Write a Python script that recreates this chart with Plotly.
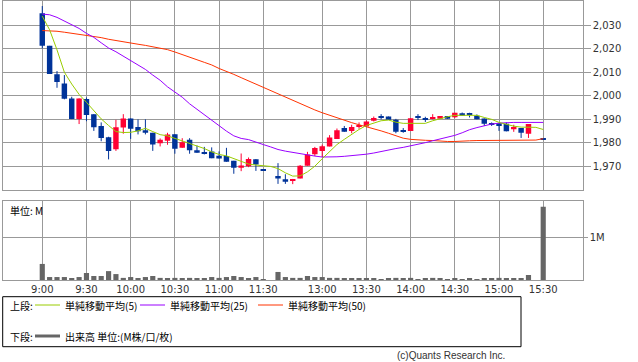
import plotly.graph_objects as go

# ---- data -------------------------------------------------------------
times = ["9:00", "9:05", "9:10", "9:15", "9:20", "9:25", "9:30", "9:35", "9:40", "9:45",
         "9:50", "9:55", "10:00", "10:05", "10:10", "10:15", "10:20", "10:25", "10:30", "10:35",
         "10:40", "10:45", "10:50", "10:55", "11:00", "11:05", "11:10", "11:15", "11:20", "11:25",
         "11:30", " ", "12:30", "12:35", "12:40", "12:45", "12:50", "12:55", "13:00", "13:05",
         "13:10", "13:15", "13:20", "13:25", "13:30", "13:35", "13:40", "13:45", "13:50", "13:55",
         "14:00", "14:05", "14:10", "14:15", "14:20", "14:25", "14:30", "14:35", "14:40", "14:45",
         "14:50", "14:55", "15:00", "15:05", "15:10", "15:15", "15:20", "15:25", "15:30"]

open_ = [2035.0, 2021.2, 2009.2, 2005.2, 1998.9, 1990.1, 1998.6, 1992.2, 1987.2, 1982.4,
         1977.3, 1986.5, 1990.4, 1986.7, 1985.4, 1984.3, 1979.8, 1980.9, 1983.7, 1977.9,
         1981.3, 1976.9, 1976.0, 1976.4, 1974.5, 1974.4, 1972.4, 1969.4, 1970.1, 1973.1,
         1968.3, None, 1965.9, 1964.6, 1963.8, 1964.9, 1970.3, 1975.2, 1976.6, 1978.5,
         1981.7, 1986.3, 1985.1, 1986.8, 1987.0, 1989.4, 1990.9, 1991.2, 1989.8, 1985.1,
         1985.1, 1990.9, 1990.1, 1990.2, 1990.2, 1991.4, 1990.9, 1992.6, 1992.2, 1991.5,
         1990.4, 1988.0, 1988.3, 1988.1, 1985.8, 1986.3, 1983.9, None, 1981.6]
high = [2038.1, 2021.2, 2010.5, 2008.8, 1999.6, 1998.9, 1999.3, 1992.2, 1988.7, 1982.6,
        1989.8, 1992.2, 1990.4, 1990.0, 1990.0, 1984.3, 1981.9, 1984.3, 1983.7, 1982.0,
        1982.0, 1978.9, 1978.3, 1978.1, 1976.4, 1977.9, 1972.4, 1975.5, 1973.8, 1973.1,
        1968.3, None, 1971.4, 1966.7, 1964.7, 1970.6, 1976.2, 1978.3, 1979.3, 1983.3,
        1986.1, 1987.2, 1987.7, 1988.7, 1989.5, 1991.2, 1992.2, 1991.2, 1990.2, 1986.3,
        1990.5, 1992.2, 1991.1, 1992.2, 1991.4, 1991.4, 1992.8, 1992.9, 1992.8, 1992.1,
        1990.4, 1988.7, 1988.3, 1988.7, 1987.7, 1986.3, 1988.0, None, 1981.6]
low = [2020.1, 2009.3, 2003.4, 1998.5, 1990.1, 1988.0, 1989.2, 1985.1, 1980.7, 1973.0,
       1976.6, 1983.9, 1981.7, 1983.6, 1983.6, 1976.6, 1978.5, 1979.2, 1975.4, 1977.9,
       1975.4, 1975.8, 1975.1, 1973.5, 1973.4, 1972.0, 1966.9, 1968.0, 1969.7, 1968.1,
       1968.3, None, 1962.6, 1962.6, 1962.5, 1964.9, 1970.3, 1974.4, 1974.0, 1978.5,
       1981.7, 1984.7, 1984.1, 1986.0, 1987.0, 1989.1, 1990.0, 1989.8, 1984.1, 1984.3,
       1985.1, 1989.7, 1988.9, 1990.0, 1990.2, 1990.2, 1990.5, 1991.5, 1990.8, 1990.0,
       1987.2, 1987.2, 1985.1, 1984.9, 1984.7, 1982.1, 1982.1, None, 1981.6]
close = [2021.2, 2009.3, 2005.9, 1998.7, 1990.1, 1998.9, 1991.8, 1986.6, 1982.1, 1976.6,
         1986.6, 1990.4, 1986.0, 1984.9, 1984.3, 1979.3, 1981.3, 1983.6, 1977.5, 1980.3,
         1976.9, 1975.8, 1975.7, 1973.5, 1973.4, 1972.0, 1969.4, 1970.4, 1973.2, 1970.8,
         1968.3, None, 1964.9, 1963.5, 1964.7, 1970.3, 1975.1, 1977.8, 1978.6, 1982.3,
         1985.4, 1984.7, 1986.8, 1987.5, 1989.1, 1990.6, 1990.9, 1989.8, 1984.7, 1985.1,
         1990.5, 1990.9, 1990.1, 1990.9, 1991.4, 1990.2, 1992.8, 1991.5, 1992.2, 1990.0,
         1988.1, 1988.0, 1987.2, 1984.9, 1986.7, 1984.3, 1988.0, None, 1981.6]

ma5 = [2033.8, 2028.0, 2019.5, 2010.0, 2005.0, 2000.6, 1997.2, 1993.5, 1990.2, 1987.4,
       1984.8, 1984.4, 1984.5, 1985.1, 1986.2, 1984.8, 1983.5, 1983.0, 1981.9, 1980.7,
       1979.9, 1978.8, 1977.6, 1976.2, 1975.1, 1974.5, 1973.4, 1972.2, 1971.0, 1970.6,
       1970.2, 1970.0, 1969.1, 1967.3, 1965.9, 1966.0, 1967.7, 1970.1, 1973.3, 1976.5,
       1979.3, 1981.5, 1983.6, 1985.7, 1987.4, 1988.5, 1989.4, 1989.7, 1988.8, 1988.3,
       1988.3, 1988.3, 1988.3, 1989.4, 1990.4, 1991.1, 1991.7, 1991.8, 1991.9, 1991.7,
       1990.8, 1990.0, 1988.7, 1987.8, 1987.1, 1986.7, 1986.6, 1986.6, 1985.7]
ma25 = [2034.7, 2034.4, 2033.3, 2031.8, 2030.4, 2028.6, 2026.5, 2024.8, 2022.5, 2020.3,
        2018.7, 2016.8, 2014.8, 2013.2, 2011.2, 2008.8, 2006.6, 2003.8, 2001.7, 1999.4,
        1996.6, 1994.3, 1991.8, 1989.4, 1987.3, 1985.0, 1983.0, 1981.9, 1981.4, 1980.5,
        1979.3, 1978.3, 1977.2, 1976.5, 1975.9, 1975.3, 1974.8, 1974.4, 1974.0, 1973.9,
        1974.1, 1974.3, 1974.5, 1974.8, 1975.2, 1975.7, 1976.4, 1977.0, 1977.6, 1978.1,
        1978.7, 1979.4, 1980.1, 1980.9, 1981.6, 1982.2, 1983.2, 1984.3, 1985.6, 1986.5,
        1987.3, 1988.0, 1988.4, 1988.7, 1988.7, 1988.7, 1988.7, 1988.7, 1988.7]
ma50 = [2027.7, 2027.6, 2027.4, 2027.0, 2026.6, 2026.2, 2025.8, 2025.3, 2024.7, 2024.0,
        2023.4, 2023.0, 2022.4, 2021.9, 2021.4, 2020.8, 2020.3, 2019.6, 2018.6, 2017.6,
        2016.5, 2015.3, 2014.2, 2013.1, 2011.6, 2010.5, 2009.1, 2007.7, 2006.3, 2004.9,
        2003.5, 2002.1, 2000.7, 1999.4, 1998.1, 1996.8, 1995.4, 1994.0, 1992.8, 1991.7,
        1990.6, 1989.6, 1988.6, 1987.7, 1986.9, 1986.0, 1985.1, 1984.1, 1983.1, 1982.0,
        1981.5, 1981.2, 1981.1, 1981.0, 1980.7, 1980.6, 1980.6, 1980.6, 1980.9, 1981.0,
        1981.0, 1981.0, 1981.0, 1981.0, 1981.1, 1981.1, 1981.1, 1981.2, 1981.8]

volume_m = [0.38, 0.07, 0.07, 0.07, 0.035, 0.07, 0.165, 0.095, 0.095, 0.21,
            0.14, 0.05, 0.07, 0.035, 0.07, 0.095, 0.05, 0.035, 0.05, 0.035,
            0.05, 0.035, 0.035, 0.07, 0.05, 0.07, 0.095, 0.07, 0.035, 0.07,
            0.01, None, 0.19, 0.07, 0.05, 0.05, 0.095, 0.07, 0.07, 0.05,
            0.05, 0.035, 0.035, 0.035, 0.035, 0.035, 0.01, 0.035, 0.05, 0.035,
            0.05, 0.01, 0.035, 0.05, 0.035, 0.01, 0.035, 0.01, 0.035, 0.01,
            0.035, 0.035, 0.05, 0.035, 0.05, 0.05, 0.12, None, 1.73]

tick_times = ["9:00", "9:30", "10:00", "10:30", "11:00", "11:30",
              "13:00", "13:30", "14:00", "14:30", "15:00", "15:30"]
price_ticks = [1970, 1980, 1990, 2000, 2010, 2020, 2030]

# ---- styles -----------------------------------------------------------
W, H = 638, 362
UP, DOWN = "#ff0033", "#003399"
GRID = "#999999"
JP = "Noto Sans CJK JP"
NUM = "DejaVu Sans"


def px(x):
    return x / W


def py(y):
    return 1 - y / H


fig = go.Figure()

# candle bodies + wicks
for color, is_up in ((UP, True), (DOWN, False)):
    bx, bbase, bh, wx, wy = [], [], [], [], []
    for t, o, h, l, c in zip(times, open_, high, low, close):
        if o is None:
            continue
        if (c > o) != is_up:
            continue
        lo, hi = min(o, c), max(o, c)
        if hi - lo < 0.4:
            mid = (hi + lo) / 2
            lo, hi = mid - 0.2, mid + 0.2
        bx.append(t)
        bbase.append(lo)
        bh.append(hi - lo)
        wx += [t, t, None]
        wy += [l, h, None]
    fig.add_trace(go.Scatter(x=wx, y=wy, mode="lines", line=dict(color=color, width=1),
                             xaxis="x", yaxis="y", hoverinfo="skip"))
    fig.add_trace(go.Bar(x=bx, y=bh, base=bbase, width=0.74, marker=dict(color=color, line=dict(width=0)),
                         xaxis="x", yaxis="y"))

# moving averages
for vals, color in ((ma50, "#ff3300"), (ma25, "#9900ff"), (ma5, "#99cc00")):
    fig.add_trace(go.Scatter(x=times, y=vals, mode="lines", line=dict(color=color, width=1, shape="linear"),
                             xaxis="x", yaxis="y"))

# volume
fig.add_trace(go.Bar(x=times, y=volume_m, width=0.7, marker=dict(color="#666666", line=dict(width=0)),
                     xaxis="x2", yaxis="y2"))

xcommon = dict(type="category", categoryorder="array", categoryarray=times,
               range=[-5.33, 73.36], domain=[px(3), px(582.7)],
               tickvals=tick_times, ticktext=tick_times,
               showgrid=True, gridcolor=GRID, gridwidth=1,
               showline=True, mirror=True, linecolor=GRID, linewidth=1,
               zeroline=False, ticks="", fixedrange=True)

fig.update_layout(
    width=W, height=H, autosize=False,
    margin=dict(l=0, r=0, t=0, b=0),
    paper_bgcolor="white", plot_bgcolor="white",
    showlegend=False, barmode="overlay",
    font=dict(family=NUM, size=10, color="#333333"),
    xaxis=dict(xcommon, anchor="y", showticklabels=False),
    xaxis2=dict(xcommon, anchor="y2", showticklabels=True,
                tickfont=dict(family=NUM, size=10, color="#333333")),
    yaxis=dict(domain=[py(190), py(1)], range=[1960, 2040.25], side="right", anchor="x",
               tickvals=price_ticks, tickformat=",d",
               ticks="outside", ticklen=7, tickcolor=GRID,
               showgrid=True, gridcolor=GRID, gridwidth=1,
               showline=True, mirror=True, linecolor=GRID, linewidth=1, zeroline=False,
               tickfont=dict(family=NUM, size=10, color="#333333")),
    yaxis2=dict(domain=[py(280), py(201)], range=[0, 1.868], side="right", anchor="x2",
                tickvals=[1], ticktext=["1M"],
                ticks="outside", ticklen=4, tickcolor=GRID,
                showgrid=True, gridcolor=GRID, gridwidth=1,
                showline=True, mirror=True, linecolor=GRID, linewidth=1, zeroline=False,
                tickfont=dict(family=NUM, size=10, color="#333333")),
)

shapes = [
    dict(type="rect", xref="paper", yref="paper", x0=px(2.7), x1=px(521), y0=py(346.7), y1=py(296.7),
         line=dict(color="black", width=1)),
    dict(type="line", xref="paper", yref="paper", x0=px(35), x1=px(60), y0=py(305), y1=py(305),
         line=dict(color="#99cc00", width=1)),
    dict(type="line", xref="paper", yref="paper", x0=px(140), x1=px(165), y0=py(305), y1=py(305),
         line=dict(color="#9900ff", width=1)),
    dict(type="line", xref="paper", yref="paper", x0=px(258), x1=px(283), y0=py(305), y1=py(305),
         line=dict(color="#ff3300", width=1)),
    dict(type="line", xref="paper", yref="paper", x0=px(35), x1=px(60), y0=py(336), y1=py(336),
         line=dict(color="#666666", width=3)),
]
fig.update_layout(shapes=shapes)


def note(text, x, y, anchor="left", family=JP, size=10, color="black"):
    fig.add_annotation(text=text, xref="paper", yref="paper", x=px(x), y=py(y),
                       xanchor=anchor, yanchor="middle", showarrow=False,
                       font=dict(family=family, size=size, color=color))


note("上段:", 8, 305)
note("単純移動平均(5)", 63, 305)
note("単純移動平均(25)", 168, 305)
note("単純移動平均(50)", 286, 305)
note("下段:", 8, 336)
note("出来高 単位:(M株/口/枚)", 63, 336)
note("単位: M", 8, 210)
note("(c)Quants Research Inc.", 507, 355, anchor="right", family="Liberation Sans", size=10, color="#333333")

fig.write_html("out.html", config={"displayModeBar": False},
               post_script="document.body.style.margin='0';document.body.style.padding='0';"
                           "document.documentElement.style.overflow='hidden';")
